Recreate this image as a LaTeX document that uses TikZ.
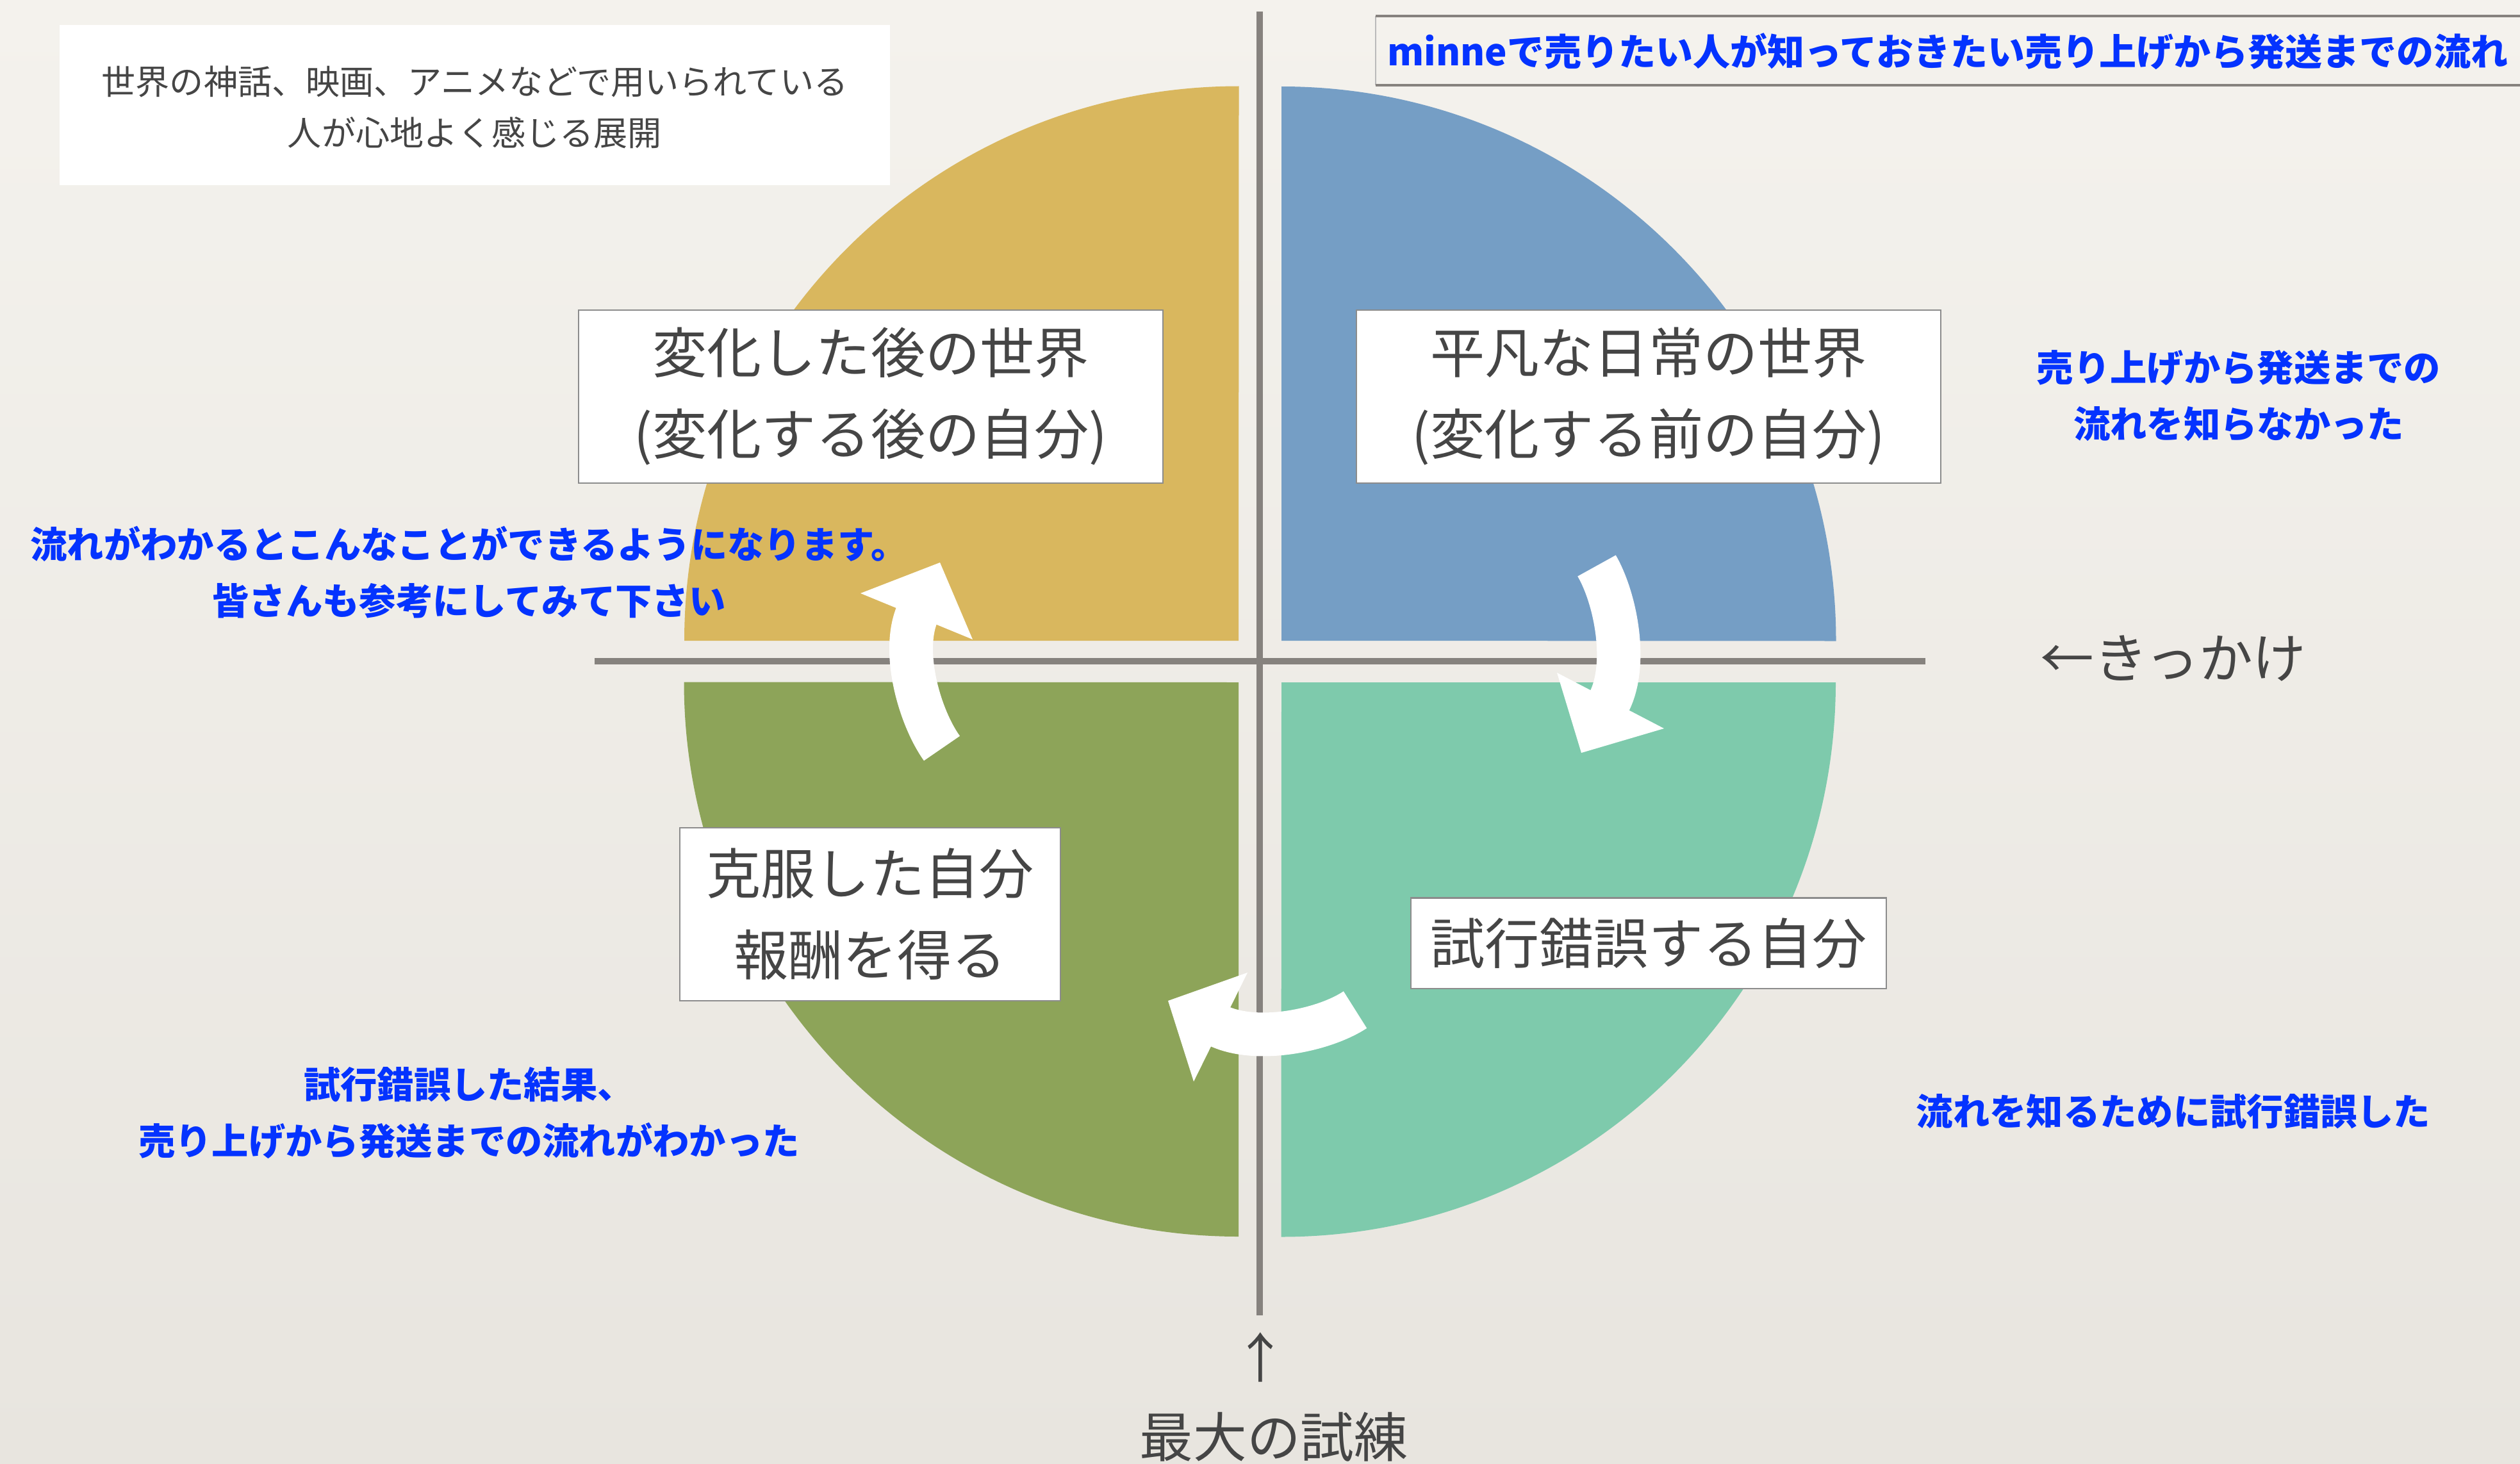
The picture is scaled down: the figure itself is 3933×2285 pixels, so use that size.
\documentclass[tikz,border=0pt]{standalone}
\usepackage{fontspec}
\setmainfont{Noto Sans CJK JP}
\definecolor{paperTop}{HTML}{F4F2ED}
\definecolor{paperBot}{HTML}{E8E5DF}
\definecolor{qgold}{HTML}{D9B75E}
\definecolor{qblue}{HTML}{759EC5}
\definecolor{qteal}{HTML}{7ECAAC}
\definecolor{qolive}{HTML}{8DA459}
\definecolor{axisgray}{HTML}{86827E}
\definecolor{textgray}{HTML}{454545}
\definecolor{noteblue}{HTML}{0433FF}
\definecolor{boxline}{HTML}{8C8C8C}
\tikzset{
  labelbox/.style={draw=boxline, line width=0.6pt, fill=white, text=textgray, align=center, inner sep=0pt,
    font=\fontsize{24.2pt}{36.1pt}\selectfont},
  note/.style={text=noteblue, align=center, inner sep=0pt, font=\fontsize{16.3pt}{25pt}\selectfont\bfseries},
  graytext/.style={text=textgray, inner sep=0pt, font=\fontsize{23.8pt}{28pt}\selectfont},
  bigarrow/.style={white, line width=0.68cm, line cap=butt},
  arrowhead/.style={fill=white},
  axisline/.style={axisgray, line width=0.1cm},
}
\begin{document}
\begin{tikzpicture}[x=0.01cm,y=-0.01cm]
\useasboundingbox (0,0) rectangle (3933,2285);
\shade[top color=paperTop, bottom color=paperBot] (0,0) rectangle (3933,2285);

% quadrants
\fill[qgold]  (1933,1000) -- ++(-865,0) arc[start angle=180, end angle=90, radius=8.65cm] -- cycle;
\fill[qblue]  (2000,1000) -- ++(0,-865) arc[start angle=90, end angle=0, radius=8.65cm] -- cycle;
\fill[qteal]  (2000,1065) -- ++(865,0) arc[start angle=0, end angle=-90, radius=8.65cm] -- cycle;
\fill[qolive] (1933,1065) -- ++(0,865) arc[start angle=270, end angle=180, radius=8.65cm] -- cycle;

% axes
\coordinate (vtop) at (1966,18);
\coordinate (vbot) at (1966,2053);
\coordinate (hleft) at (928,1032);
\coordinate (hright) at (3005,1032);
\draw[axisline] (vtop) -- (vbot);
\draw[axisline] (hleft) -- (hright);

% curved block arrows
\coordinate (a1s) at (2492,883);
\coordinate (a1e) at (2510,1098);
\draw[bigarrow] (a1s) .. controls (2522,935) and (2542,1039) .. (a1e);
\fill[arrowhead] (2430,1050) -- (2468,1175) -- (2597,1137) -- cycle;

\coordinate (a2s) at (2115,1576);
\coordinate (a2e) at (1899,1600);
\draw[bigarrow] (a2s) .. controls (2065,1609) and (1959,1630) .. (a2e);
\fill[arrowhead] (1947,1518) -- (1823,1562) -- (1863,1688) -- cycle;

\coordinate (a3s) at (1470,1168);
\coordinate (a3e) at (1432,957);
\draw[bigarrow] (a3s) .. controls (1435,1119) and (1406,1017) .. (a3e);
\fill[arrowhead] (1343,926) -- (1467,878) -- (1518,998) -- cycle;

% quadrant labels
\node[labelbox, minimum width=9.12cm, minimum height=2.70cm] (after) at (1359,619)
  {変化した後の世界\\(変化する後の自分)};
\node[labelbox, minimum width=9.12cm, minimum height=2.70cm] (ordinary) at (2573,619)
  {平凡な日常の世界\\(変化する前の自分)};
\node[labelbox, minimum width=5.93cm, minimum height=2.69cm] (overcome) at (1358,1427)
  {克服した自分\\報酬を得る};
\node[labelbox, minimum width=7.41cm, minimum height=1.41cm] (trial) at (2573,1472)
  {試行錯誤する自分};

% top-left explanation box
\node[fill=white, minimum width=12.96cm, minimum height=2.49cm, inner sep=0pt] (introbox) at (741,164) {};
\node[text=textgray, align=center, inner sep=0pt, font=\fontsize{15.1pt}{22.8pt}\selectfont] (intro) at (741,167)
  {世界の神話、映画、アニメなどで用いられている\\人が心地よく感じる展開};

% title box (top right)
\coordinate (tbl) at (2147,25);
\coordinate (tbr) at (3933,25);
\coordinate (tbb) at (2147,133);
\coordinate (tbbr) at (3933,133);
\draw[boxline!60, line width=0.5pt] (tbl) -- (tbb);
\draw[axisgray, line width=1.2pt] (tbl) -- (tbr);
\draw[axisgray, line width=1.2pt] (tbb) -- (tbbr);
\node[note, font=\fontsize{16.5pt}{20pt}\selectfont\bfseries] (title) at (3040,80)
  {minneで売りたい人が知っておきたい売り上げから発送までの流れ};

% blue notes
\node[note] (n1) at (3494,618) {売り上げから発送までの\\流れを知らなかった};
\node[note] (n2) at (732,893) {流れがわかるとこんなことができるようになります。\\皆さんも参考にしてみて下さい};
\node[note] (n3) at (732,1737) {試行錯誤した結果、\\売り上げから発送までの流れがわかった};
\node[note] (n4) at (3392,1735) {流れを知るために試行錯誤した};

% gray labels
\node[graytext] (kikkake) at (3392,1028) {←きっかけ};
\node[graytext] (uparrow) at (1967,2118) {↑};
\node[graytext] (trialmax) at (1988,2243) {最大の試練};
\end{tikzpicture}
\end{document}
